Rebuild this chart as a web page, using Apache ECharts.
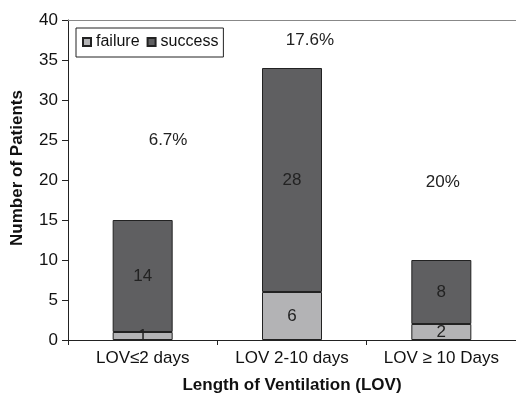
<!DOCTYPE html>
<html>
<head>
<meta charset="utf-8">
<script src="https://cdn.jsdelivr.net/npm/echarts@6/dist/echarts.min.js"></script>
<style>
  html, body { margin: 0; padding: 0; background: #fff; }
  #chart { width: 516px; height: 400px; }
</style>
</head>
<body>
<div id="chart"></div>
<script>
// LOV groups
let categories = ['LOV\u22642 days', 'LOV 2-10 days', 'LOV \u2265 10 Days'];
let failure = [1, 6, 2];
let success = [14, 28, 8];
// failure rate text, placed in category units (x) and patients (y)
let rateText = ['6.7%', '17.6%', '20%'];
let rateX = [0.67, 1.62, 2.51];
let rateY = [25, 37.4, 19.7];

let myChart = echarts.init(document.getElementById('chart'));
let font = 'Liberation Sans, Arial, sans-serif';

let option = {
    animation: false,
    textStyle: { fontFamily: font },
    grid: {
        left: 68,
        top: 20,
        width: 453,
        bottom: 60
    },
    legend: {
        left: 76,
        top: 28,
        icon: 'rect',
        itemWidth: 8,
        itemHeight: 8,
        itemGap: 7,
        padding: [6, 5, 7, 6],
        borderColor: '#222',
        borderWidth: 1,
        textStyle: { fontSize: 16, color: '#111', fontFamily: font },
        data: ['failure', 'success']
    },
    xAxis: [{
        type: 'category',
        data: categories,
        axisLine: { lineStyle: { color: '#222', width: 1 } },
        axisTick: { show: true, interval: 0, length: 5, lineStyle: { color: '#222' } },
        axisLabel: { fontSize: 17, color: '#111', margin: 10, interval: 0, hideOverlap: false },
        name: 'Length of Ventilation (LOV)',
        nameLocation: 'middle',
        nameGap: 37,
        nameTextStyle: { fontSize: 17, fontWeight: 'bold', color: '#111' }
    }, {
        // top border of the plot area, also holds the rate text
        type: 'value',
        position: 'top',
        min: 0,
        max: 3,
        axisLine: { show: true, lineStyle: { color: '#888', width: 1 } },
        axisTick: { show: false },
        axisLabel: { show: false },
        splitLine: { show: false }
    }],
    yAxis: {
        type: 'value',
        min: 0,
        max: 40,
        interval: 5,
        axisLine: { show: true, lineStyle: { color: '#222', width: 1 } },
        axisTick: { show: true, length: 6, lineStyle: { color: '#222' } },
        splitLine: { show: false },
        axisLabel: { fontSize: 17, color: '#111', margin: 10 },
        name: 'Number of Patients',
        nameLocation: 'middle',
        nameGap: 42,
        nameTextStyle: { fontSize: 17, fontWeight: 'bold', color: '#111', padding: [0, 0, 0, 24] }
    },
    series: [
        {
            name: 'failure',
            type: 'bar',
            stack: 'total',
            barWidth: 60,
            data: failure,
            itemStyle: { color: '#b3b3b5', borderColor: '#222', borderWidth: 1 },
            label: { show: true, position: 'inside', fontSize: 17, color: '#222' }
        },
        {
            name: 'success',
            type: 'bar',
            stack: 'total',
            barWidth: 60,
            data: success,
            itemStyle: { color: '#5f5f61', borderColor: '#222', borderWidth: 1 },
            label: { show: true, position: 'inside', fontSize: 17, color: '#222' }
        },
        {
            name: 'rate',
            type: 'scatter',
            xAxisIndex: 1,
            symbolSize: 0,
            silent: true,
            itemStyle: { opacity: 1 },
            data: rateX.map(function (x, i) {
                return { value: [x, rateY[i]], label: { formatter: rateText[i] } };
            }),
            label: { show: true, position: 'inside', fontSize: 17, color: '#222' }
        }
    ]
};

myChart.setOption(option);
</script>
</body>
</html>
